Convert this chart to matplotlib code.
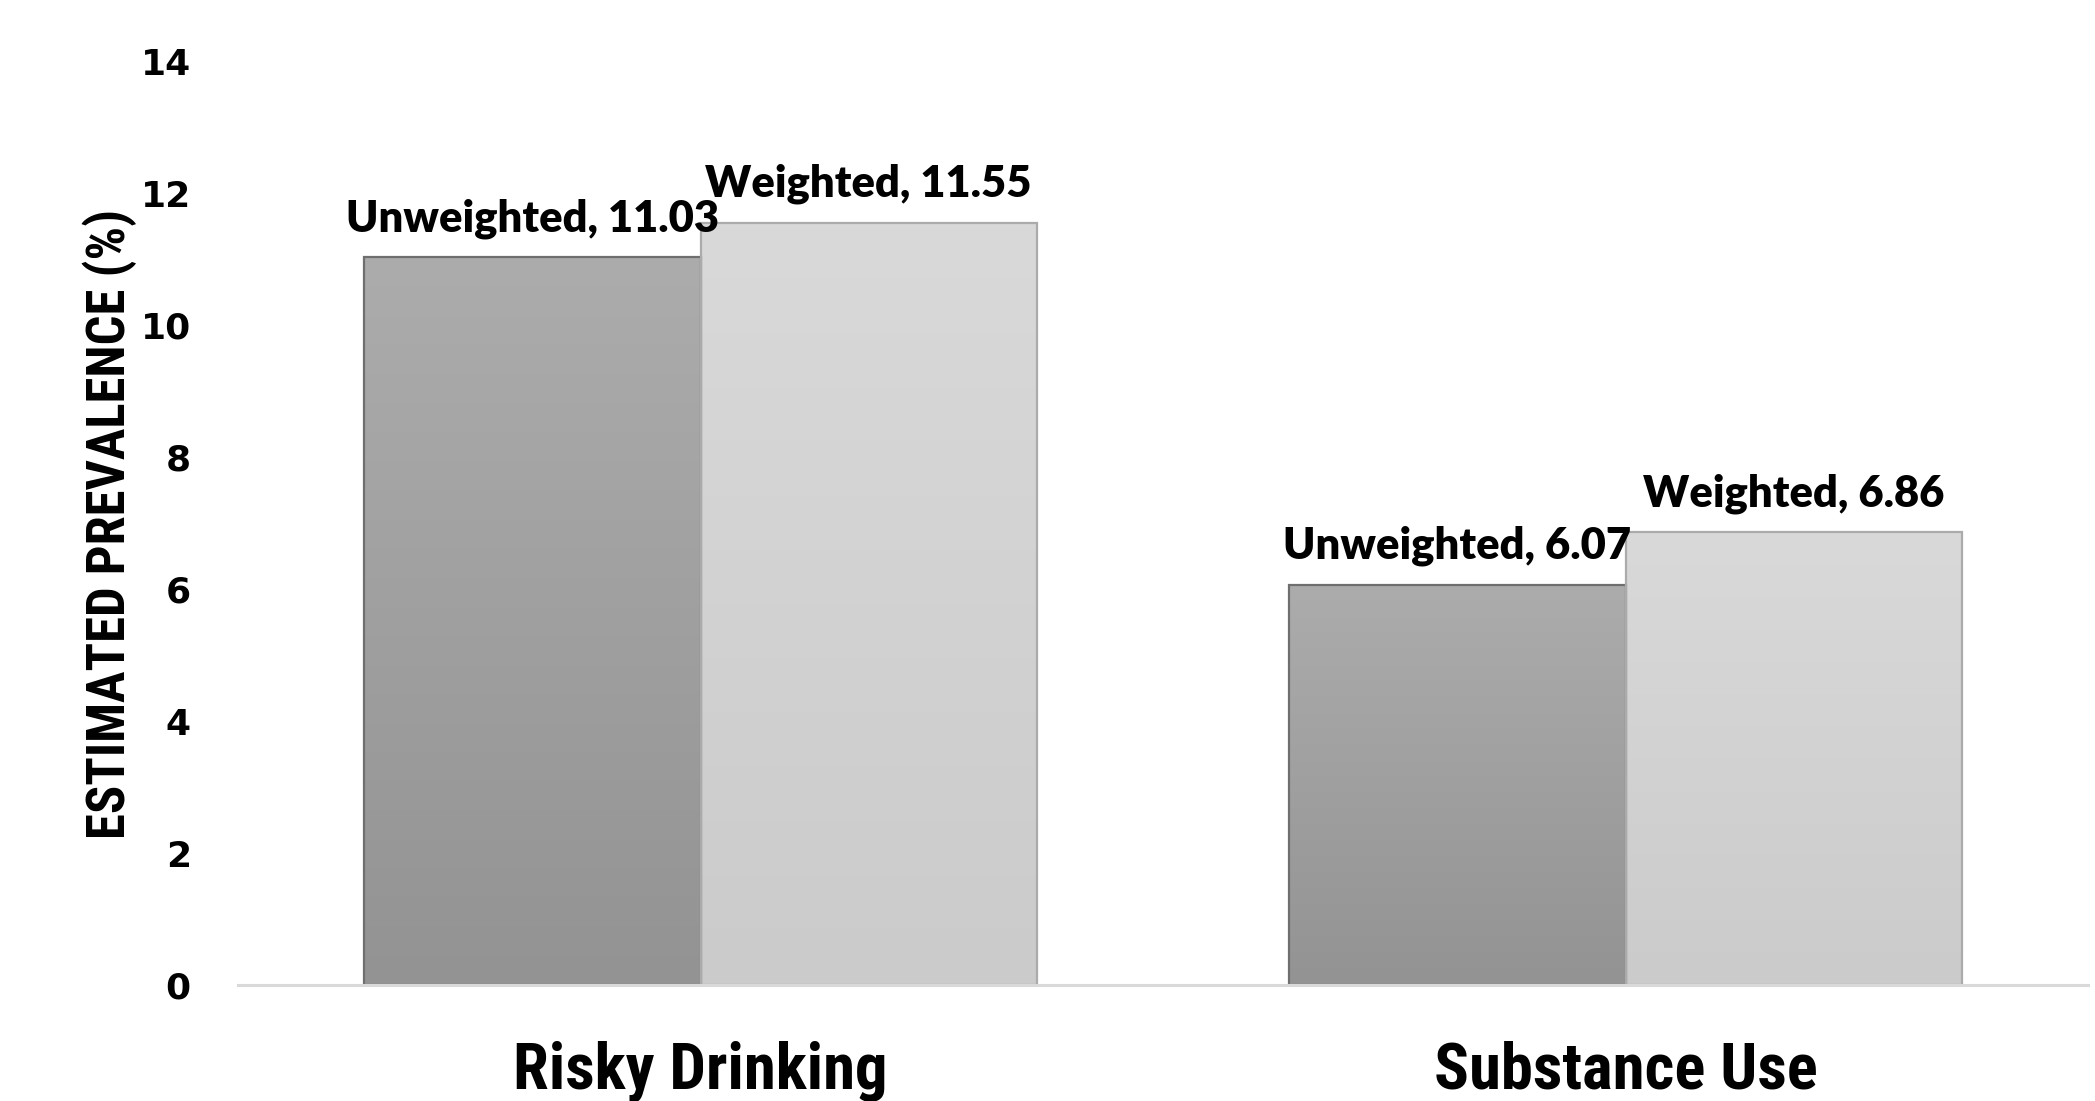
import numpy as np
import matplotlib
matplotlib.use("Agg")
import matplotlib.pyplot as plt
from matplotlib.colors import LinearSegmentedColormap
from matplotlib import font_manager

categories = ["Risky Drinking", "Substance Use"]
series_names = ["Unweighted", "Weighted"]
unweighted = [11.03, 6.07]
weighted = [11.55, 6.86]
y_ticks = [0, 2, 4, 6, 8, 10, 12, 14]
y_title = "ESTIMATED PREVALENCE (%)"


def pick(*names):
    avail = {f.name for f in font_manager.fontManager.ttflist}
    for n in names:
        if n in avail:
            return n
    return "DejaVu Sans"


narrow = pick("Liberation Sans Narrow", "Roboto Condensed", "Open Sans Condensed", "Liberation Sans")
label_font = pick("Lato", "Open Sans", "Liberation Sans")

fig = plt.figure(figsize=(20.95, 11.01), dpi=100)
ax = fig.add_axes([0.1136, 0.1054, 0.8831, 0.8387])

x = np.arange(len(categories))
width = 0.3635
series = [unweighted, weighted]
offsets = [-width / 2, width / 2]
# (bottom colour, top colour, edge colour) for each series
styles = [("#939393", "#acacac", "#6f6f6f"),
          ("#cbcbcb", "#d9d9d9", "#ababab")]

grad = np.linspace(0, 1, 256).reshape(-1, 1)
value_labels = []
for name, vals, off, (c_bot, c_top, c_edge) in zip(series_names, series, offsets, styles):
    rects = ax.bar(x + off, vals, width, facecolor="none", edgecolor=c_edge,
                   linewidth=1.6, zorder=3)
    cmap = LinearSegmentedColormap.from_list(name, [c_bot, c_top])
    for rect, v in zip(rects, vals):
        x0 = rect.get_x()
        im = ax.imshow(grad, extent=[x0, x0 + rect.get_width(), 0, v], origin="lower",
                       aspect="auto", cmap=cmap, zorder=2, interpolation="bilinear")
        im.set_clip_path(rect)
        t = ax.annotate(f"{name}, {v:.2f}", xy=(x0 + rect.get_width() / 2, v),
                        xytext=(0, 19), textcoords="offset points",
                        ha="center", va="baseline", fontsize=26,
                        fontweight="heavy", family=label_font, color="black", zorder=5)
        value_labels.append(t)

ax.set_xlim(-0.5, 1.5)
ax.set_ylim(0, 14)
ax.set_yticks(y_ticks)
ax.set_yticklabels([str(v) for v in y_ticks], fontsize=26, fontweight="bold",
                   family="DejaVu Sans")
ax.set_xticks(x)
ax.set_xticklabels(categories, fontsize=40, fontweight="bold", family=narrow)
ax.tick_params(axis="y", length=0, pad=34)
ax.tick_params(axis="x", length=0, pad=40)
for s in ("top", "right", "left"):
    ax.spines[s].set_visible(False)
ax.spines["bottom"].set_color("#d9d9d9")
ax.spines["bottom"].set_linewidth(2.2)
ax.spines["bottom"].set_zorder(4)

ylab = fig.text(110 / 2095, 1 - 524 / 1101, y_title, rotation=90, ha="center",
                va="center", fontsize=30, fontweight="bold", family=narrow)


def fit(texts, target_px, vertical=False):
    fig.canvas.draw()
    r = fig.canvas.get_renderer()
    bb = texts[0].get_window_extent(r)
    cur = bb.height if vertical else bb.width
    size = texts[0].get_fontsize() * target_px / cur
    for t in texts:
        t.set_fontsize(size)


fit(value_labels, 373)
fit(ax.get_xticklabels(), 374)
fit([ylab], 629, vertical=True)

fig.savefig("out.png", dpi=100)
